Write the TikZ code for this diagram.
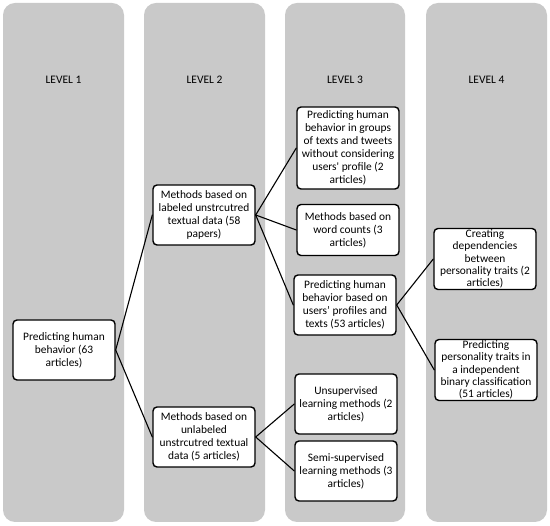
\documentclass[tikz,border=0pt]{standalone}
\usepackage{fontspec}
\setmainfont{Carlito}
\usetikzlibrary{positioning}
\definecolor{levelgray}{RGB}{201,201,201}

\begin{document}
\begin{tikzpicture}[x=1pt, y=-1pt, line join=round, line cap=round,
  levellabel/.style={font=\fontsize{11.5}{13}\selectfont},
  catbox/.style={draw=black, line width=1.4pt, fill=white, rounded corners=4pt,
    minimum width=102pt, inner xsep=1pt, inner ysep=0.5pt, align=center,
    font=\fontsize{11.4}{13}\selectfont},
  tightbox/.style={catbox, font=\fontsize{11.4}{12.2}\selectfont},
  link/.style={line width=1.1pt}]
\useasboundingbox (0,0) rectangle (550,526);

% Level columns
\foreach \i/\xl/\xr in {1/3/124, 2/144/265, 3/285/405, 4/426/547} {
  \fill[levelgray, rounded corners=12pt] (\xl,3) rectangle (\xr,522);
  \node[levellabel] (lvl\i) at ({(\xl+\xr)/2},80) {LEVEL \i};
}

% Level 1
\node[catbox, minimum height=60pt] (root) at (64,350)
  {Predicting human\\behavior (63\\articles)};

% Level 2
\node[catbox, minimum height=60pt] (labeled) at (204,215)
  {Methods based on\\labeled unstrcutred\\textual data (58\\papers)};
\node[catbox, minimum height=60pt] (unlabeled) at (204,437)
  {Methods based on\\unlabeled\\unstrcutred textual\\data (5 articles)};

% Level 3
\node[catbox, minimum height=82pt] (groups) at (348,148)
  {Predicting human\\behavior in groups\\of texts and tweets\\without considering\\users\textquotesingle{} profile (2\\articles)};
\node[catbox, minimum height=51pt] (counts) at (348,230)
  {Methods based on\\word counts (3\\articles)};
\node[catbox, minimum height=60pt] (profiles) at (345,305)
  {Predicting human\\behavior based on\\users’ profiles and\\texts (53 articles)};
\node[catbox, minimum height=60pt] (unsup) at (346,404)
  {Unsupervised\\learning methods (2\\articles)};
\node[catbox, minimum height=60pt] (semisup) at (346,471)
  {Semi-supervised\\learning methods (3\\articles)};

% Level 4
\node[tightbox, minimum height=61pt] (depend) at (485,259)
  {Creating\\dependencies\\between\\personality traits (2\\articles)};
\node[tightbox, minimum height=61pt] (binary) at (486,370)
  {Predicting\\personality traits in\\a independent\\binary classification\\(51 articles)};

% Connectors
\draw[link] (root.east) -- (labeled.west);
\draw[link] (root.east) -- (unlabeled.west);
\draw[link] (labeled.east) -- (groups.west);
\draw[link] (labeled.east) -- (counts.west);
\draw[link] (labeled.east) -- (profiles.west);
\draw[link] (unlabeled.east) -- (unsup.west);
\draw[link] (unlabeled.east) -- (semisup.west);
\draw[link] (profiles.east) -- (depend.west);
\draw[link] (profiles.east) -- (binary.west);
\end{tikzpicture}
\end{document}
